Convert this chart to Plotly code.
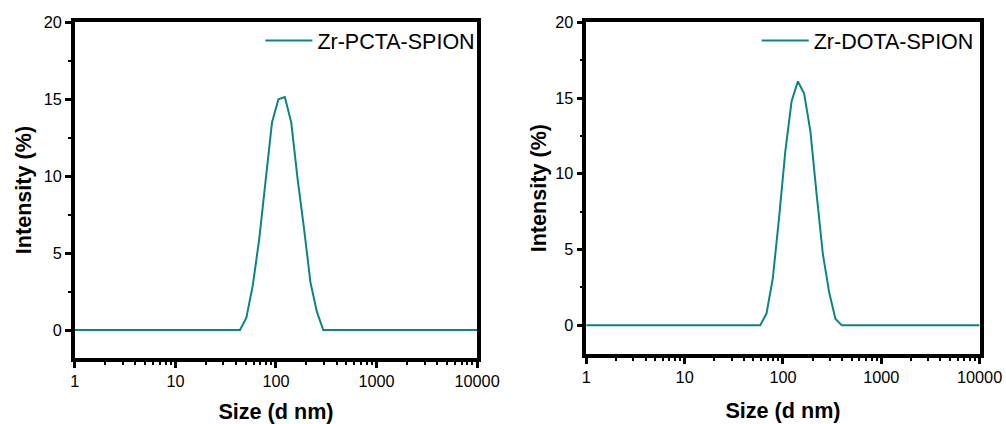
import plotly.graph_objects as go

# Hydrodynamic size bins (d nm) of the DLS size distribution
size_nm = [0.4000, 0.4632, 0.5365, 0.6213, 0.7195, 0.8332, 0.9649, 1.117, 1.294, 1.499,
           1.736, 2.010, 2.328, 2.696, 3.122, 3.615, 4.187, 4.849, 5.615, 6.503,
           7.531, 8.721, 10.10, 11.70, 13.54, 15.69, 18.17, 21.04, 24.36, 28.21,
           32.67, 37.84, 43.82, 50.75, 58.77, 68.06, 78.82, 91.28, 105.7, 122.4,
           141.8, 164.2, 190.1, 220.2, 255.0, 295.3, 342.0, 396.1, 458.7, 531.2,
           615.1, 712.4, 825.0, 955.4, 1106, 1281, 1484, 1718, 1990, 2305,
           2669, 3091, 3580, 4145, 4801, 5560, 6439, 7456, 8635, 10000]

# Intensity distribution (%) for each sample
pcta_intensity = [0, 0, 0, 0, 0, 0, 0, 0, 0, 0,
                  0, 0, 0, 0, 0, 0, 0, 0, 0, 0,
                  0, 0, 0, 0, 0, 0, 0, 0, 0, 0,
                  0, 0, 0, 0.8, 2.9, 5.9, 9.9, 13.5, 15.0, 15.15,
                  13.5, 9.8, 6.6, 3.1, 1.2, 0, 0, 0, 0, 0,
                  0, 0, 0, 0, 0, 0, 0, 0, 0, 0,
                  0, 0, 0, 0, 0, 0, 0, 0, 0, 0]

dota_intensity = [0, 0, 0, 0, 0, 0, 0, 0, 0, 0,
                  0, 0, 0, 0, 0, 0, 0, 0, 0, 0,
                  0, 0, 0, 0, 0, 0, 0, 0, 0, 0,
                  0, 0, 0, 0, 0, 0.77, 3.1, 7.1, 11.5, 14.8,
                  16.1, 15.3, 12.8, 8.6, 4.65, 2.15, 0.4, 0, 0, 0,
                  0, 0, 0, 0, 0, 0, 0, 0, 0, 0,
                  0, 0, 0, 0, 0, 0, 0, 0, 0, 0]

sample_names = ["Zr-PCTA-SPION", "Zr-DOTA-SPION"]

x_tick_vals = [1, 10, 100, 1000, 10000]
x_tick_text = ["1", "10", "100", "1000", "10000"]
y_tick_vals = [0, 5, 10, 15, 20]
y_tick_text = ["0", "5", "10", "15", "20"]

W, H = 1006, 424
LINE_COLOR = "#0a8584"
FONT = "Liberation Sans, Arial, sans-serif"

fig = go.Figure()
fig.add_trace(go.Scatter(x=size_nm, y=pcta_intensity, mode="lines", name=sample_names[0],
                         line=dict(color=LINE_COLOR, width=2),
                         xaxis="x", yaxis="y", legend="legend"))
fig.add_trace(go.Scatter(x=size_nm, y=dota_intensity, mode="lines", name=sample_names[1],
                         line=dict(color=LINE_COLOR, width=2),
                         xaxis="x2", yaxis="y2", legend="legend2"))


def px_x(p):
    return p / W


def px_y(p):
    return 1 - p / H


def x_axis(domain, anchor):
    return dict(
        type="log", domain=domain, anchor=anchor, range=[0, 4],
        tickmode="array", tickvals=x_tick_vals, ticktext=x_tick_text,
        ticks="outside", ticklen=6, tickwidth=3, tickcolor="black",
        minor=dict(ticks="outside", ticklen=3, tickwidth=2, tickcolor="black", dtick="D1"),
        showline=True, linewidth=3.5, linecolor="black", mirror=True,
        showgrid=False, zeroline=False,
        tickfont=dict(family=FONT, size=16.3, color="black"),
        title=dict(text="<b>Size (d nm)</b>", font=dict(family=FONT, size=21.6, color="black"),
                   standoff=19),
    )


def y_axis(domain, anchor, y_min, standoff):
    return dict(
        domain=domain, anchor=anchor, range=[y_min, 20],
        tickmode="array", tickvals=y_tick_vals, ticktext=y_tick_text,
        ticks="outside", ticklen=6, tickwidth=3, tickcolor="black",
        minor=dict(ticks="outside", ticklen=3, tickwidth=2, tickcolor="black", dtick=2.5),
        showline=True, linewidth=3.5, linecolor="black", mirror=True,
        showgrid=False, zeroline=False,
        tickfont=dict(family=FONT, size=16.3, color="black"),
        title=dict(text="<b>Intensity (%)</b>", font=dict(family=FONT, size=21.6, color="black"),
                   standoff=standoff),
    )


legend_style = dict(
    font=dict(family=FONT, size=21.5, color="black"),
    bgcolor="rgba(0,0,0,0)", borderwidth=0,
    xanchor="right", yanchor="top", itemwidth=47,
)

fig.update_layout(
    width=W, height=H,
    margin=dict(l=0, r=0, t=0, b=0),
    paper_bgcolor="white", plot_bgcolor="white",
    xaxis=x_axis([px_x(71.9), px_x(485.6)], "y"),
    yaxis=y_axis([px_y(359.8), px_y(13.8)], "x", -1.8, 7),
    xaxis2=x_axis([px_x(598.0), px_x(1002.5)], "y2"),
    yaxis2=y_axis([px_y(355.8), px_y(13.8)], "x2", -1.9, 4),
    legend=dict(x=px_x(489.0), y=px_y(11.4), **legend_style),
    legend2=dict(x=px_x(1001.6), y=px_y(11.4), **legend_style),
    showlegend=True,
)

fig.write_html("out.html")
